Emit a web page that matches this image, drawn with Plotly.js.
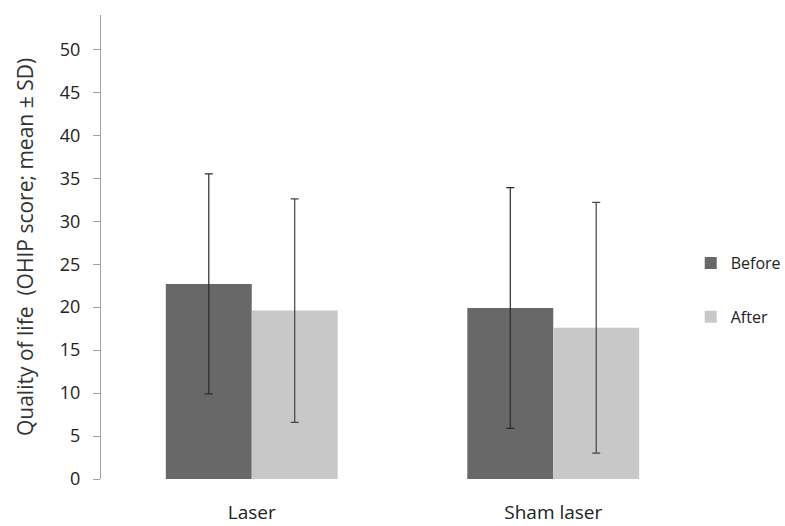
<!DOCTYPE html>
<html>
<head>
<meta charset="utf-8">
<script src="https://cdn.plot.ly/plotly-3.0.1.min.js"></script>
<style>html,body{margin:0;padding:0;background:#fff;}#chart{width:785px;height:526px;}</style>
</head>
<body>
<div id="chart"></div>
<script>
var categories = ["Laser", "Sham laser"];
var beforeMean = [22.7, 19.9];
var beforeSD = [12.8, 14.0];
var afterMean = [19.6, 17.6];
var afterSD = [13.0, 14.6];
var yTicks = [0, 5, 10, 15, 20, 25, 30, 35, 40, 45, 50];

var font = "'Open Sans', sans-serif";
var traces = [
  {type: "bar", name: "Before", x: categories, y: beforeMean, legendgroup: "a",
   marker: {color: "#686868"},
   error_y: {type: "data", array: beforeSD, visible: true, color: "#2a2a2a", thickness: 1.2, width: 4}},
  {type: "bar", name: "After", x: categories, y: afterMean, legendgroup: "b",
   marker: {color: "#c8c8c8"},
   error_y: {type: "data", array: afterSD, visible: true, color: "#444444", thickness: 1.2, width: 4}}
];
var layout = {
  width: 785, height: 526,
  margin: {l: 101, r: 81, t: 15, b: 47, autoexpand: false},
  paper_bgcolor: "#fff", plot_bgcolor: "#fff",
  barmode: "group", bargap: 0.43, bargroupgap: 0,
  font: {family: font, color: "#333"},
  xaxis: {range: [-0.5, 1.5], showline: false, ticks: "", showgrid: false, zeroline: false,
          tickfont: {size: 19, color: "#222"}, ticklabelstandoff: 20},
  yaxis: {range: [0, 54], tickvals: yTicks, ticktext: yTicks.map(String), showgrid: false, zeroline: false,
          showline: true, linecolor: "#a0a0a0", linewidth: 1, ticks: "outside", ticklen: 7, tickcolor: "#a0a0a0",
          tickfont: {size: 18, color: "#222"}, ticklabelstandoff: 9,
          title: {text: "Quality of life  (OHIP score; mean ± SD)", font: {size: 21, color: "#333"}, standoff: 20}},
  showlegend: true,
  legend: {x: 0.978, xanchor: "left", y: 0.407, yanchor: "middle", font: {size: 16, color: "#222"},
           tracegroupgap: 30, itemwidth: 30, bgcolor: "rgba(0,0,0,0)"}
};
Plotly.newPlot("chart", traces, layout, {displayModeBar: false, staticPlot: true});
</script>
</body>
</html>
